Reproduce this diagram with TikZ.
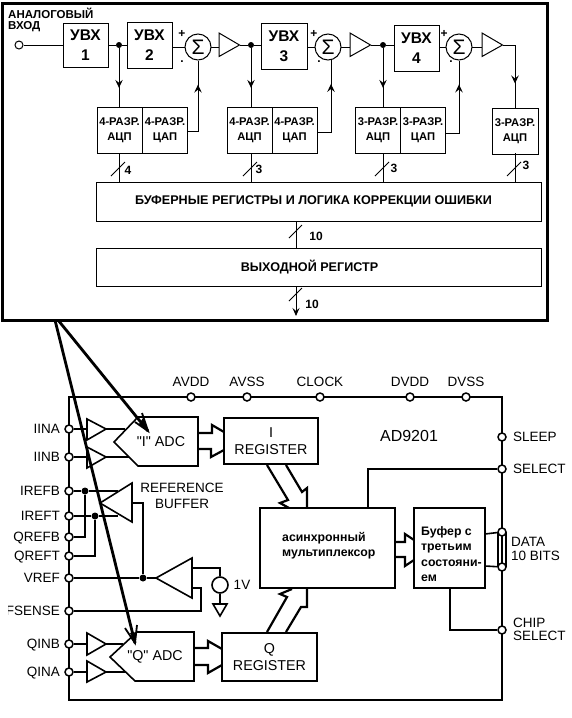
\documentclass[tikz,border=0pt]{standalone}
\usepackage{fontspec}
\setmainfont{Liberation Sans}[Ligatures=TeXOff]
\usetikzlibrary{arrows.meta,decorations.markings}
\tikzset{
  lab/.style={inner sep=0pt,text height=9.5pt,text depth=0pt,font=\fontsize{13.5}{15}\selectfont},
  blab/.style={inner sep=0pt,font=\fontsize{12}{15}\selectfont\bfseries},
  txt/.style={inner sep=0pt,anchor=base west,font=\fontsize{12.3}{14}\selectfont\bfseries},
  uvxbox/.style={draw,line width=1pt,fill=white,inner sep=0pt,align=center,font=\fontsize{15.5}{20}\selectfont\bfseries},
  adcbox/.style={draw,line width=1pt,fill=white,inner sep=0pt,align=center,minimum height=46pt,minimum width=45pt,font=\fontsize{11.2}{15.5}\selectfont\bfseries},
  wide/.style={draw,line width=1pt,inner sep=0pt,fill=white,minimum width=445pt,font=\fontsize{12.6}{14}\selectfont\bfseries},
  conn/.style={line width=1pt},
  heavy/.style={line width=1.6pt},
  dotn/.style={circle,fill=black,inner sep=0pt,minimum size=#1},
  dotn/.default=6pt,
  pinn/.style={circle,draw,line width=1.5pt,fill=white,inner sep=0pt,minimum size=8pt},
  sumn/.style={circle,draw,line width=1pt,fill=white,inner sep=0pt,minimum size=26pt,font=\fontsize{21}{21}\selectfont},
  reg/.style={draw,line width=1.6pt,fill=white,inner sep=0pt,align=center,font=\fontsize{14.3}{17}\selectfont},
  midarr/.style={postaction={decorate},decoration={markings,mark=at position #1 with {\arrow{Stealth[length=8pt,width=7.5pt,inset=3pt]}}}},
  bigarrow/.style={line width=2.2pt},
  longline/.style={line width=2.8pt},
}
\begin{document}
\begin{tikzpicture}[x=1pt,y=-1pt]
\useasboundingbox (0,0) rectangle (571,718);
% ---------- upper frame ----------
\node[draw,line width=3pt,minimum width=545pt,minimum height=317pt,inner sep=0pt] (frame) at (275,161.5) {};
\node[blab,font=\fontsize{11.5}{15}\selectfont\bfseries,anchor=west] (t1) at (8,13) {АНАЛОГОВЫЙ};
\node[blab,font=\fontsize{11.5}{15}\selectfont\bfseries,anchor=west] (t2) at (8,27) {ВХОД};
\node[circle,draw,line width=1pt,inner sep=0pt,minimum size=8pt] (in) at (19,45) {};
\node[uvxbox,minimum width=45pt,minimum height=44pt] (u1) at (85.5,45) {УВХ\\1};
\node[uvxbox,minimum width=45pt,minimum height=46pt] (u2) at (149.5,45) {УВХ\\2};
\node[uvxbox,minimum width=46pt,minimum height=46pt] (u3) at (284,46) {УВХ\\3};
\node[uvxbox,minimum width=45pt,minimum height=46pt] (u4) at (416.5,48) {УВХ\\4};
\node[sumn] (s1) at (198,47) {Σ};
\node[sumn] (s2) at (328,47) {Σ};
\node[sumn] (s3) at (459,47) {Σ};
\foreach \n/\x/\px/\dx in {1/219/182/182,2/350/314/319,3/482/444/451}{
  \draw[conn] (\x,33) -- (\x,56.5) -- (\x+20.5,45) -- cycle;
  \node[blab] (plus\n) at (\px,34) {+};
  \node[blab] (minus\n) at (\dx,62) {.};
}
\coordinate (a1) at (239.5,45);
\coordinate (a2) at (370.5,45);
\coordinate (a3) at (502.5,45);
\node[dotn] (j1) at (119,45) {};
\node[dotn] (j2) at (251,45) {};
\node[dotn] (j3) at (383,45) {};
% ADC / DAC blocks
\node[adcbox] (ad1) at (119.5,130) {4-РАЗР.\\АЦП};
\node[adcbox] (da1) at (165,130) {4-РАЗР.\\ЦАП};
\node[adcbox] (ad2) at (249.5,130) {4-РАЗР.\\АЦП};
\node[adcbox] (da2) at (294.5,130) {4-РАЗР.\\ЦАП};
\node[adcbox] (ad3) at (378,130) {3-РАЗР.\\АЦП};
\node[adcbox] (da3) at (423,130) {3-РАЗР.\\ЦАП};
\node[adcbox,minimum width=46pt] (ad4) at (515,131) {3-РАЗР.\\АЦП};
\node[wide,minimum height=39pt] (buf) at (318.5,201.5) {\hspace*{-10pt}\raisebox{1.5pt}{БУФЕРНЫЕ РЕГИСТРЫ И ЛОГИКА КОРРЕКЦИИ ОШИБКИ}};
\node[wide,minimum height=38pt] (out) at (318.5,267) {\hspace*{-18pt}ВЫХОДНОЙ РЕГИСТР};
% signal path
\draw[conn] (in) -- (u1);
\draw[conn] (u1.east|-j1) -- (j1) -- (u2.west|-j1);
\draw[conn] (u2.east|-s1) -- (s1);
\draw[conn] (s1) ++(13,0) -- (219,47);
\draw[conn] (a1) -- (j2) -- (u3.west|-j2);
\draw[conn] (u3.east|-s2) -- (s2);
\draw[conn] (s2) ++(13,0) -- (350,47);
\draw[conn] (a2) -- (j3) -- (u4.west|-j3);
\draw[conn] (u4.east|-s3) -- (s3);
\draw[conn] (s3) ++(13,0) -- (482,47);
\draw[conn,midarr=.68] (j1) -- (j1|-ad1.north);
\draw[conn,midarr=.68] (j2) -- (j2|-ad2.north);
\draw[conn,midarr=.68] (j3) -- (j3|-ad3.north);
\draw[conn,midarr=.68] (a3) -| (ad4.north);
\draw[conn,midarr=.7] (da1.east) ++(0,1) -| (s1.south);
\draw[conn,midarr=.72] (da2.east) ++(0,2) -| (331,60);
\draw[conn,midarr=.72] (da3.east) ++(0,3) -| (s3.south);
% buses
\foreach \x/\sx/\n/\lx/\ly in {119/ad1/4/128/170,251/ad2/3/259/169,383/ad3/3/394/168,515/ad4/3/526/165}{
  \draw[conn] (\x,153) -- (\x,182);
  \draw[conn] (\x-8,176) -- (\x+6,162);
  \node[blab] (bl\x) at (\lx,\ly) {\n};
}
\draw[conn] (buf.south-|296,0) -- (out.north-|296,0);
\draw[conn] (289,238) -- (302,225);
\node[blab] (ten1) at (316,236) {10};
\coordinate (outend) at (296,316);
\draw[conn,-{Stealth[length=8pt,width=7pt,inset=3pt]}] (out.south-|296,0) -- (outend);
\draw[conn] (289,301) -- (302,288);
\node[blab] (ten2) at (312,304) {10};
% ---------- lower chip ----------
\node[draw,heavy,minimum width=433pt,minimum height=303pt,inner sep=0pt] (chip) at (285.5,548.5) {};
% top pins
\foreach \n/\x/\t in {avdd/191/AVDD,avss/247/AVSS,clock/320/CLOCK,dvdd/410/DVDD,dvss/466/DVSS}{
  \node[pinn] (\n) at (\x,397) {};
  \node[lab] (l\n) at (\x,382) {\t};
}
% left pins
\foreach \n/\y/\t in {iina/429/IINA,iinb/457/IINB,irefb/491/IREFB,ireft/516/IREFT,qrefb/537/QREFB,qreft/556/QREFT,vref/578/VREF,fsense/611/FSENSE,qinb/644/QINB,qina/672/QINA}{
  \node[pinn] (\n) at (69,\y) {};
  \node[lab,anchor=east] (l\n) at (60,\y) {\t};
}
\fill[white] (0,603) rectangle (7.5,619);
% amps on inputs
\foreach \t/\b/\y in {419/440/429,447/468/457,633/655/644,661/682/672}{
  \draw[heavy] (87,\t) -- (87,\b) -- (106,\y) -- cycle;
}
\draw[heavy] (iina) -- (87,429) (106,429) -- (125,429);
\draw[heavy] (iinb) -- (87,457) (106,457) -- (130,457);
\draw[heavy] (qinb) -- (87,644) (106,644) -- (123,644);
\draw[heavy] (qina) -- (87,672) (106,672) -- (125,672);
% ADCs
\draw[heavy,fill=white] (138,417) -- (198,417) -- (198,466) -- (138,466) -- (114,442) -- cycle;
\node[lab,font=\fontsize{14.3}{17}\selectfont] (iadc) at (161,441.5) {"I" ADC};
\draw[heavy,fill=white] (137,632) -- (194,632) -- (194,681) -- (135,681) -- (110,657) -- cycle;
\node[lab,font=\fontsize{14.3}{17}\selectfont] (qadc) at (155,656) {"Q" ADC};
\node[reg,minimum width=94pt,minimum height=46pt] (ireg) at (271,441) {I\\REGISTER};
\node[reg,minimum width=95pt,minimum height=48pt] (qreg) at (269.5,657) {Q\\REGISTER};
\draw[bigarrow] (198,433) -- (212,433) -- (212,425) -- (224,432);
\draw[bigarrow] (198,449) -- (211,449) -- (211,457) -- (224,450);
\draw[bigarrow] (194,648) -- (208,648) -- (208,641) -- (222,649);
\draw[bigarrow] (194,665) -- (208,665) -- (208,673) -- (222,665);
% reference buffer
\draw[heavy] (132,483) -- (132,522) -- (100,503) -- cycle;
\node[lab] (rb1) at (182,488) {REFERENCE};
\node[lab] (rb2) at (182,504) {BUFFER};
\node[dotn=7pt] (jb) at (85,491) {};
\node[dotn=7pt] (jt) at (95,516) {};
\draw[heavy] (irefb) -- (jb) -- (118,491);
\draw[heavy] (ireft) -- (jt) -- (118,516);
\draw[heavy] (jb) |- (qrefb);
\draw[heavy] (jt) |- (qreft);
\node[dotn=7pt] (jv) at (143,578) {};
\draw[heavy] (132,503) -- (143,503) -- (jv);
\draw[heavy] (vref) -- (jv) -- (156,578);
\draw[heavy] (192,558) -- (192,598) -- (156,578) -- cycle;
\node[circle,draw,heavy,fill=white,inner sep=0pt,minimum size=16pt] (src) at (220,585) {};
\draw[heavy] (192,568) -| (src.north);
\coordinate (gnd) at (220,604);
\draw[heavy] (src.south) -- (gnd);
\draw[heavy] (213,604) -- (227,604) -- (220,616) -- cycle;
\node[lab] (onev) at (242,585) {1V};
\draw[heavy] (192,588) -- (201,588) |- (fsense);
% mux and buffer
\node[draw,heavy,fill=white,minimum width=135pt,minimum height=80pt,inner sep=0pt] (mux) at (327.5,548) {};
\node[draw,heavy,fill=white,minimum width=71pt,minimum height=80pt,inner sep=0pt] (tbuf) at (449.5,548) {};
\node[txt] (m1) at (282,541) {асинхронный};
\node[txt] (m2) at (282,556) {мультиплексор};
\node[txt] (b1) at (421,535) {Буфер с};
\node[txt] (b2) at (421,550) {третьим};
\node[txt] (b3) at (421,566) {состояни-};
\node[txt] (b4) at (421,581) {ем};
\draw[bigarrow] (267,465) -- (288,500) -- (280,503) -- (289,508);
\draw[bigarrow] (286,465) -- (302,492) -- (307,488) -- (307,508);
\draw[bigarrow] (267,632) -- (287,597) -- (280,594) -- (292,589);
\draw[bigarrow] (286,632) -- (301,607) -- (307,607) -- (307,589);
\draw[bigarrow] (395,542) -- (405,542) -- (405,534) -- (414,540);
\draw[bigarrow] (395,557) -- (405,557) -- (405,566) -- (414,560);
% right pins
\node[pinn] (sleep) at (502,437) {};
\node[pinn] (select) at (502,469) {};
\node[pinn] (d1) at (502,532) {};
\node[pinn] (d2) at (502,567) {};
\node[pinn] (cs) at (502,630) {};
\node[lab,anchor=west] (lsleep) at (513,437) {SLEEP};
\node[lab,anchor=west] (lselect) at (513,469) {SELECT};
\node[lab,anchor=west] (ldata) at (511,542) {DATA};
\node[lab,anchor=west] (lbits) at (511,556) {10 BITS};
\node[lab,anchor=west] (lchip) at (513,623) {CHIP};
\node[lab,anchor=west] (lcs) at (513,636) {SELECT};
\node[lab,font=\fontsize{16}{17}\selectfont] (ad) at (409,437) {AD9201};
\draw[heavy] (368,508) |- (select);
\draw[heavy] (485,534) -- (d1);
\draw[heavy] (485,566) -- (d2);
\draw[heavy] (498,532) -- (498,567);
\draw[heavy] (506,532) -- (506,567);
\draw[heavy] (450,588) |- (cs);
% long arrows
\coordinate (fa) at (55,320);
\coordinate (fb) at (58,320);
\coordinate (qt) at (135,643);
\coordinate (it) at (148,431);
\draw[longline] (fa) -- (qt);
\draw[longline] (fb) -- (it);
\draw[line width=1.8pt] (125,628) -- (135,643) -- (137,625);
\draw[line width=1.8pt] (135,422) -- (148,431) -- (142,413);
\fill (148,431) -- (139,424) -- (143,418) -- cycle;
\fill (135,643) -- (130,633) -- (137,632) -- cycle;
\end{tikzpicture}
\end{document}
